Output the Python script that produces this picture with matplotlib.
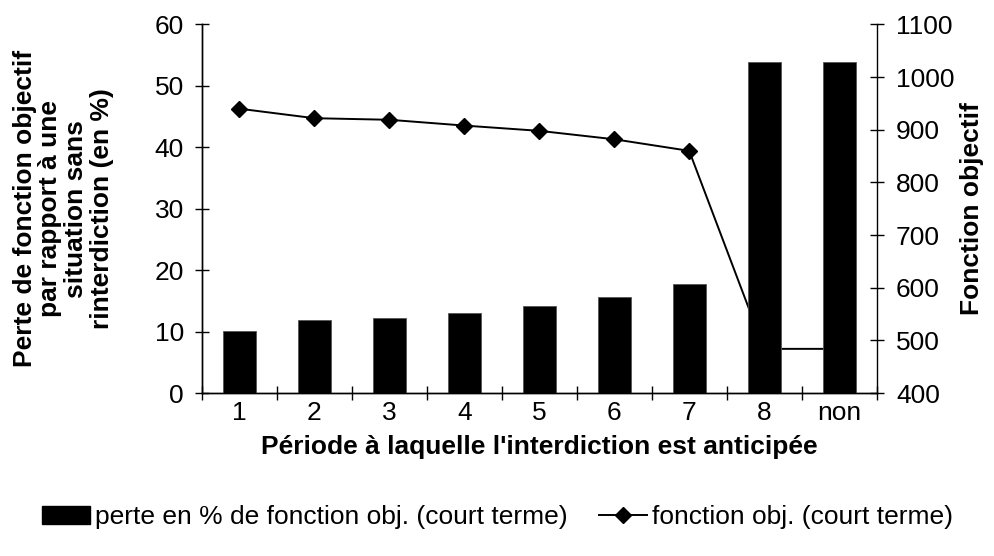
import matplotlib.pyplot as plt
from matplotlib.patches import Patch
from matplotlib.lines import Line2D

plt.rcParams['font.family'] = ['Liberation Sans', 'DejaVu Sans']
plt.rcParams['font.size'] = 19

# Données
periodes = ['1', '2', '3', '4', '5', '6', '7', '8', 'non']
perte_pct = [10.1, 11.9, 12.2, 13.1, 14.1, 15.6, 17.8, 53.9, 53.9]
fonction_obj = [940, 922, 919, 908, 898, 882, 860, 484, 484]

fig = plt.figure(figsize=(9.95, 5.56), dpi=100)
ax = fig.add_axes([0.203, 0.293, 0.678, 0.663])
ax2 = ax.twinx()

# la courbe passe derrière les barres
ax2.set_zorder(ax.get_zorder() - 1)
ax.patch.set_visible(False)

x = list(range(len(periodes)))
ax.bar(x, perte_pct, width=0.44, color='black', edgecolor='#555555', linewidth=0.6)
ax2.plot(x, fonction_obj, color='black', linewidth=1.4, marker='D', markersize=8)

ax.set_xlim(-0.5, len(periodes) - 0.5)
ax.set_ylim(0, 60)
ax.set_yticks(range(0, 61, 10))
ax2.set_ylim(400, 1100)
ax2.set_yticks(range(400, 1101, 100))

ax.set_xticks([i + 0.5 for i in range(-1, len(periodes))])
ax.set_xticklabels([])
ax.set_xticks(x, minor=True)
ax.set_xticklabels(periodes, minor=True)
ax.tick_params(axis='x', which='major', direction='inout', length=10, width=1)
ax.tick_params(axis='x', which='minor', length=0, pad=6)
ax.tick_params(axis='y', direction='inout', length=10, width=1, pad=8)
ax2.tick_params(axis='y', direction='inout', length=10, width=1, pad=9)

for a in (ax, ax2):
    a.spines['top'].set_visible(False)
    for s in ('left', 'right', 'bottom'):
        a.spines[s].set_linewidth(1)
ax.spines['right'].set_visible(False)

ax.set_xlabel("Période à laquelle l'interdiction est anticipée",
              fontweight='bold', labelpad=7)
ax.set_ylabel("Perte de fonction objectif\npar rapport à une\nsituation sans\nrinterdiction (en %)",
              fontweight='bold', linespacing=1.1, labelpad=29)
ax2.set_ylabel("Fonction objectif", fontweight='bold', labelpad=4)

handles = [Patch(facecolor='black', edgecolor='black'),
           Line2D([0], [0], color='black', linewidth=1.4, marker='D', markersize=8)]
labels = ['perte en % de fonction obj. (court terme)', 'fonction obj. (court terme)']
fig.legend(handles, labels, loc='center', bbox_to_anchor=(0.5, 0.07), ncol=2,
           frameon=False, handlelength=1.8, handletextpad=0.2, columnspacing=1.2)

fig.savefig('out.png', dpi=100)
